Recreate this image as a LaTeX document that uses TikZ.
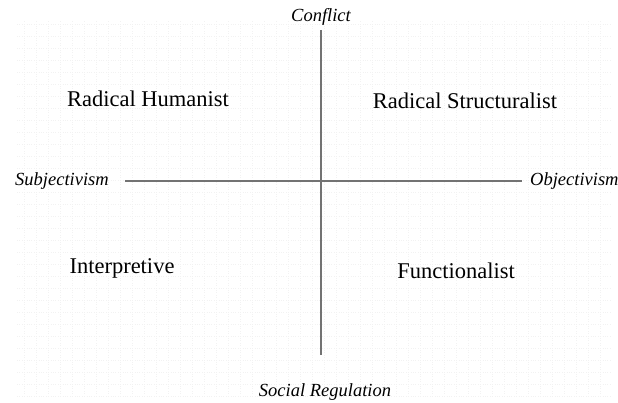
\documentclass[tikz,border=0pt]{standalone}
\usepackage{fontspec}
\setmainfont{Liberation Serif}
\usetikzlibrary{positioning}

\begin{document}
\begin{tikzpicture}[x=1pt,y=-1pt,every node/.style={inner sep=0pt},
    axislabel/.style={font=\fontsize{18.5}{21}\selectfont\itshape},
    paradigm/.style={font=\fontsize{22.5}{26}\selectfont},
    axisline/.style={draw=black!55,line width=1.3pt}]
  \useasboundingbox (0,0) rectangle (618,403);
  % faint background grid
  \draw[black!5,dotted] (17,20) grid[step=12pt] (610,396);

  % axis labels
  \node[axislabel] (conflict) at (321,17) {Conflict};
  \node[axislabel] (regulation) at (325,392) {Social Regulation};
  \node[axislabel] (subj) at (62,181) {Subjectivism};
  \node[axislabel,anchor=west] (obj) at (530,181) {Objectivism};

  % axes
  \coordinate (top) at (321,30);
  \coordinate (bottom) at (321,355);
  \coordinate (left) at (125,181);
  \coordinate (right) at (522,181);
  \draw[axisline] (top) -- (bottom);
  \draw[axisline] (left) -- (right);

  % paradigms
  \node[paradigm] (humanist) at (148,99) {Radical Humanist};
  \node[paradigm] (structuralist) at (465,101) {Radical Structuralist};
  \node[paradigm] (interpretive) at (122,268) {Interpretive};
  \node[paradigm] (functionalist) at (456,271) {Functionalist};
\end{tikzpicture}
\end{document}
